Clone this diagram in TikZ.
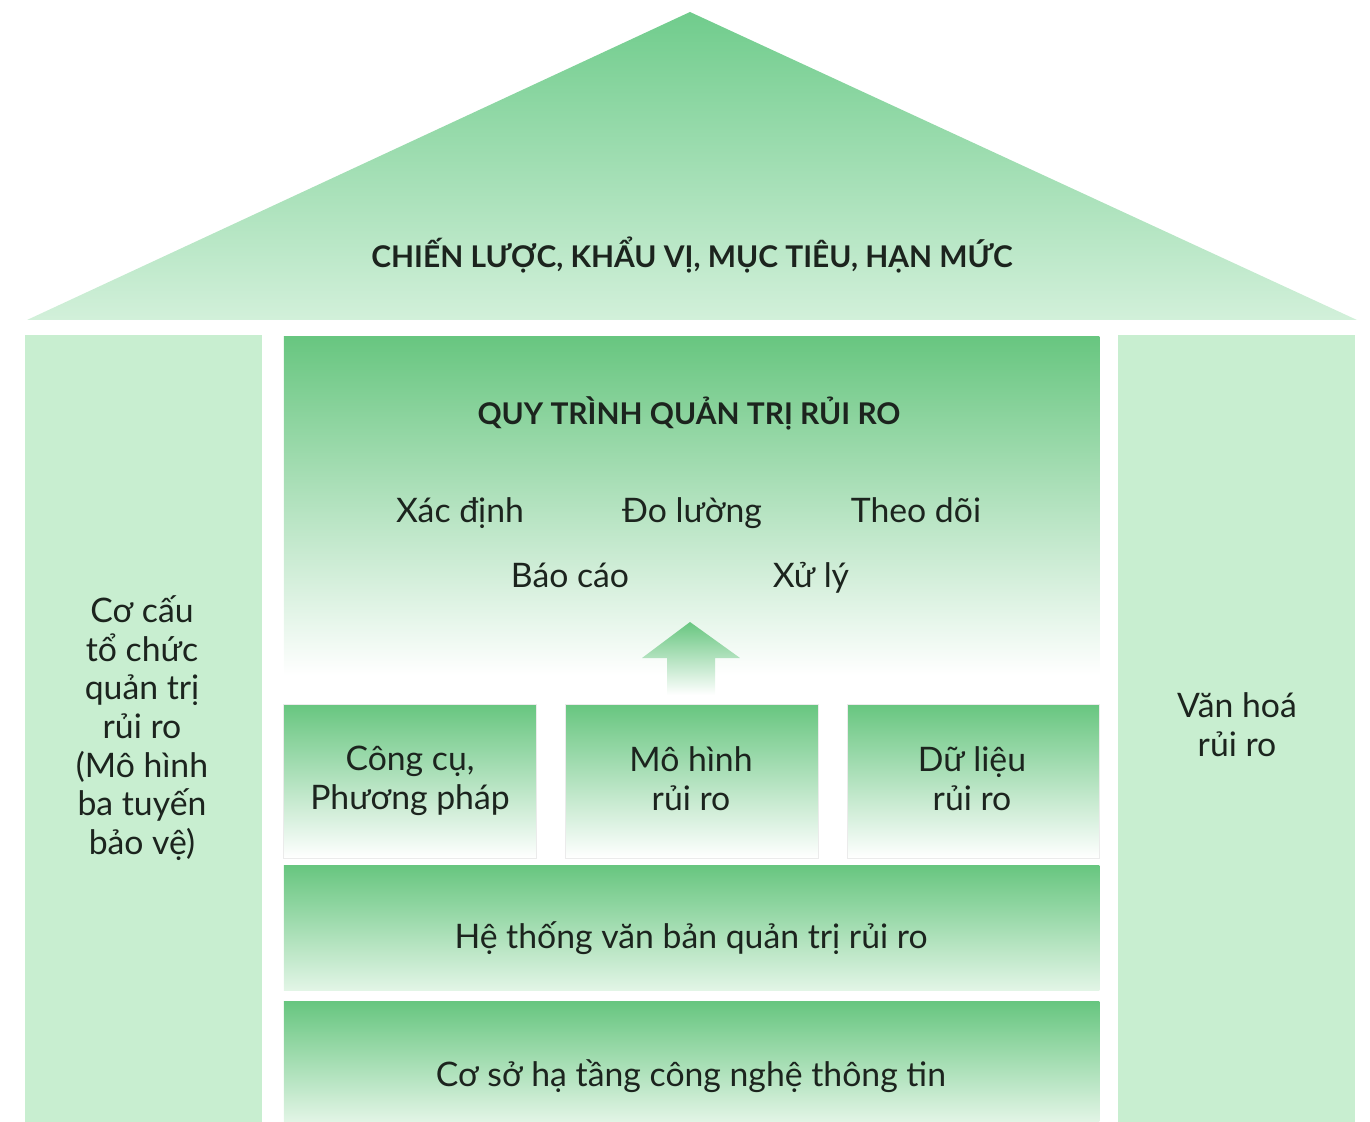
\documentclass[tikz,border=0pt]{standalone}
\usepackage{fontspec}
\setmainfont{Lato}
\usepackage{tikz}
\usepackage{xcolor}
\definecolor{roofgreen}{RGB}{112,204,140}
\definecolor{roofpale}{RGB}{210,240,218}
\definecolor{pillarfill}{RGB}{200,238,208}
\definecolor{boxgreen}{RGB}{104,198,128}
\definecolor{boxpale}{RGB}{226,245,230}
\definecolor{inkdark}{RGB}{28,36,30}

\begin{document}
\begin{tikzpicture}[x=0.01cm,y=-0.01cm]
	    \tikzstyle{pillar}=[rectangle, inner sep=0, fill=pillarfill, minimum width=2.37cm, minimum height=7.87cm]
	    \tikzstyle{fadebox}=[rectangle, inner sep=0, draw=black!8, line width=.3pt, top color=boxgreen, bottom color=white]
	    \tikzstyle{layer}=[rectangle, inner sep=0, top color=boxgreen, bottom color=boxpale, minimum width=8.15cm]
	    \tikzstyle{label}=[text=inkdark, align=center, font=\fontsize{9.6}{11}\selectfont]
	    \tikzstyle{item}=[label, inner sep=0, text height=6.9pt, text depth=0pt]
	    \tikzstyle{heading}=[text=inkdark, inner sep=0, text height=6.1pt, text depth=0pt, font=\bfseries\fontsize{8.5}{10}\selectfont]
	    \useasboundingbox (0,0) rectangle (1370,1122);
	    % roof
	    \shade[top color=roofgreen, bottom color=roofpale] (690,12) -- (1357,320) -- (27,320) -- cycle;
	    \node[heading] (strategy) at (692,257) {CHIẾN LƯỢC, KHẨU VỊ, MỤC TIÊU, HẠN MỨC};
	    % pillars
	    \node[pillar] (orgpillar) at (143.5,728.5) {};
	    \node[pillar] (culturepillar) at (1236.5,728.5) {};
	    \node[label] (orgtext) at (142,728) {Cơ cấu\\tổ chức\\quản trị\\rủi ro\\(Mô hình\\ba tuyến\\bảo vệ)};
	    \node[label] (culturetext) at (1237,725) {Văn hoá\\rủi ro};
	    % process box
	    \node[rectangle, inner sep=0, top color=boxgreen, middle color=boxgreen!22, bottom color=white, minimum width=8.15cm, minimum height=3.38cm] (process) at (691.5,506) {};
	    \node[heading] (processtitle) at (689,414) {QUY TRÌNH QUẢN TRỊ RỦI RO};
	    \node[item] (identify) at (460,510) {Xác định};
	    \node[item] (measure) at (692,510) {Đo lường};
	    \node[item] (monitor) at (916,510) {Theo dõi};
	    \node[item] (report) at (570,575) {Báo cáo};
	    \node[item] (handle) at (811,575) {Xử lý};
	    % arrow
	    \shade[top color=boxgreen, bottom color=white] (690,622) -- (740,658) -- (715,658) -- (715,695) -- (667,695) -- (667,658) -- (642,658) -- cycle;
	    % supports
	    \node[fadebox, minimum width=2.52cm, minimum height=1.53cm] (tools) at (410,781.5) {};
	    \node[fadebox, minimum width=2.52cm, minimum height=1.53cm] (models) at (692,781.5) {};
	    \node[fadebox, minimum width=2.52cm, minimum height=1.53cm] (data) at (973.5,781.5) {};
	    \node[label] (toolstext) at (410,781) {Công cụ,\\Phương pháp};
	    \node[label] (modelstext) at (691,779) {Mô hình\\rủi ro};
	    \node[label] (datatext) at (972,779) {Dữ liệu\\rủi ro};
	    % layers
	    \node[layer, minimum height=1.24cm] (documents) at (691.5,928) {};
	    \node[layer, minimum height=1.20cm] (infra) at (691.5,1062) {};
	    \node[item] (documentstext) at (691,936) {Hệ thống văn bản quản trị rủi ro};
	    \node[item] (infratext) at (691,1074) {Cơ sở hạ tầng công nghệ thông tin};
\end{tikzpicture}
\end{document}
